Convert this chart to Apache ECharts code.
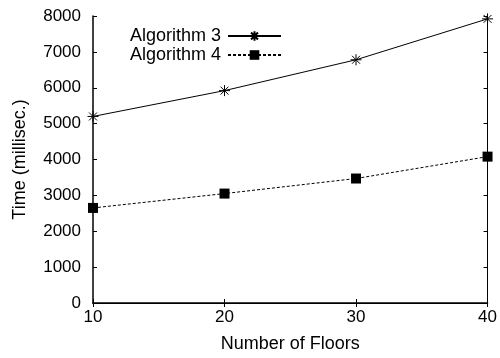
<!DOCTYPE html>
<html><head><meta charset="utf-8">
<script src="https://cdn.jsdelivr.net/npm/echarts@6/dist/echarts.min.js"></script>
<style>html,body{margin:0;padding:0;background:#fff}#c{width:500px;height:358px}</style>
</head><body><div id="c"></div>
<script>
const floors = [10, 20, 30, 40];
const alg3 = [5200, 5920, 6780, 7920];
const alg4 = [2650, 3050, 3470, 4080];
const seriesNames = ['Algorithm 3', 'Algorithm 4'];
const xTitle = 'Number of Floors';
const yTitle = 'Time (millisec.)';

const FONT = '"Liberation Sans", Arial, Helvetica, sans-serif';
const star = 'path://M0,-1L0,1M-1,0L1,0M-0.72,-0.72L0.72,0.72M-0.72,0.72L0.72,-0.72';
const chart = echarts.init(document.getElementById('c'), null, {renderer: 'canvas'});
const tickStyle = {show: true, inside: true, length: 4, lineStyle: {color: '#000', width: 1}};
chart.setOption({
  animation: false,
  backgroundColor: '#fff',
  textStyle: {fontFamily: FONT},
  grid: {left: 93, right: 9, top: 16, bottom: 53, containLabel: false},
  legend: {
    orient: 'vertical', align: 'right', right: 213, top: 22,
    itemWidth: 53, itemHeight: 12, itemGap: 1,
    textStyle: {fontSize: 18, color: '#000', fontFamily: FONT, lineHeight: 16, padding: [0, 2, 0, 0]},
    data: seriesNames
  },
  xAxis: [{
    type: 'value', min: 10, max: 40, interval: 10, position: 'bottom',
    name: xTitle, nameLocation: 'middle', nameGap: 32,
    nameTextStyle: {fontSize: 18, color: '#000', fontFamily: FONT},
    axisLine: {show: true, lineStyle: {color: '#000', width: 1.5}},
    axisTick: tickStyle,
    axisLabel: {fontSize: 17, color: '#000', margin: 6, fontFamily: FONT},
    splitLine: {show: false}
  }, {
    type: 'value', min: 10, max: 40, interval: 10, position: 'top',
    axisLine: {show: true, lineStyle: {color: '#000', width: 1}},
    axisTick: tickStyle, axisLabel: {show: false}, splitLine: {show: false}
  }],
  yAxis: [{
    type: 'value', min: 0, max: 8000, interval: 1000, position: 'left',
    name: yTitle, nameLocation: 'middle', nameGap: 64,
    nameTextStyle: {fontSize: 18, color: '#000', fontFamily: FONT},
    axisLine: {show: true, lineStyle: {color: '#000', width: 1.5}},
    axisTick: tickStyle,
    axisLabel: {fontSize: 17, color: '#000', margin: 12, fontFamily: FONT, formatter: v => String(v)},
    splitLine: {show: false}
  }, {
    type: 'value', min: 0, max: 8000, interval: 1000, position: 'right',
    axisLine: {show: true, lineStyle: {color: '#000', width: 1}},
    axisTick: tickStyle, axisLabel: {show: false}, splitLine: {show: false}
  }],
  series: [{
    name: seriesNames[0], type: 'line',
    data: floors.map((f, i) => [f, alg3[i]]),
    symbol: star, symbolSize: 11,
    itemStyle: {color: '#000', borderColor: '#000', borderWidth: 1},
    lineStyle: {color: '#000', width: 1}
  }, {
    name: seriesNames[1], type: 'line',
    data: floors.map((f, i) => [f, alg4[i]]),
    symbol: 'rect', symbolSize: 10,
    itemStyle: {color: '#000'},
    lineStyle: {color: '#000', width: 1, type: [3, 2]}
  }]
});
</script></body></html>
